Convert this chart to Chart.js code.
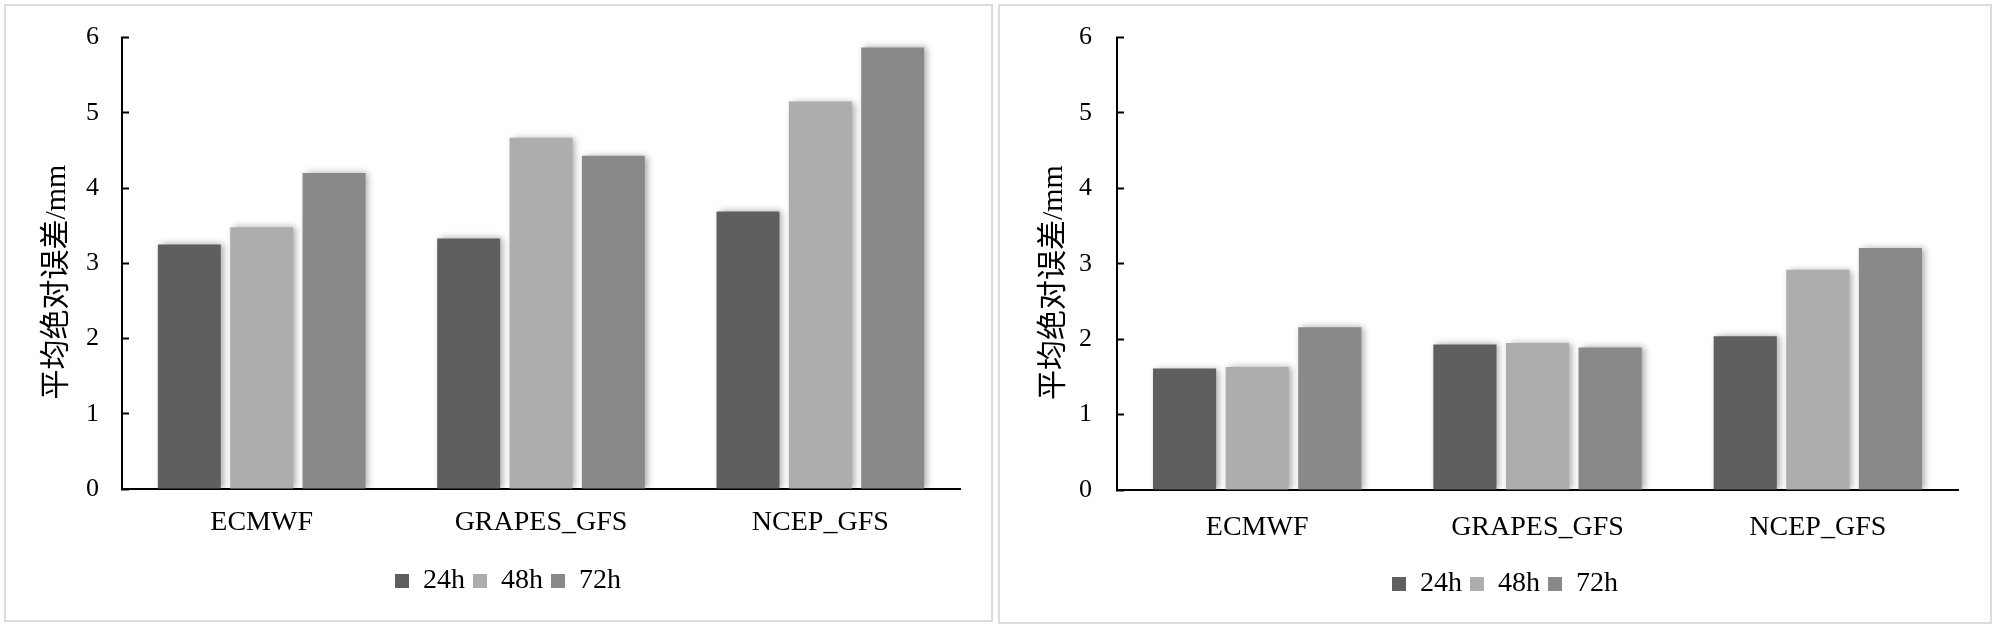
<!DOCTYPE html>
<html>
<head>
<meta charset="utf-8">
<script src="https://cdn.jsdelivr.net/npm/chart.js@4.4.1/dist/chart.umd.min.js"></script>
<style>
  html, body { margin: 0; padding: 0; background: #fff; }
  body { width: 2000px; height: 632px; position: relative; overflow: hidden; }
  .panel { position: absolute; box-sizing: border-box; border: 2px solid #dcdcdc; }
  canvas { position: absolute; }
</style>
</head>
<body>
<div class="panel" style="left:4px; top:4px; width:989px; height:618px;"></div>
<div class="panel" style="left:998px; top:4px; width:994px; height:620px;"></div>
<canvas id="left-chart" style="left:6px; top:-8px;" width="984" height="623"></canvas>
<canvas id="right-chart" style="left:1001px; top:-10px;" width="988" height="623"></canvas>
<script>
// categories and series
const categories = ['ECMWF', 'GRAPES_GFS', 'NCEP_GFS'];
const seriesNames = ['24h', '48h', '72h'];
const seriesColors = ['#5f5f5f', '#adadad', '#898989'];

// left panel values
const left24 = [3.25, 3.33, 3.69];
const left48 = [3.48, 4.67, 5.15];
const left72 = [4.20, 4.43, 5.87];

// right panel values
const right24 = [1.61, 1.93, 2.04];
const right48 = [1.63, 1.95, 2.92];
const right72 = [2.16, 1.89, 3.21];

const yMin = 0;
const yMax = 6;
const yTitle = '平均绝对误差/mm     ';

const serif = '"Liberation Serif", "Times New Roman", "Noto Sans CJK SC", serif';

// soft shadow to the right of each bar, like the original
const barShadow = {
  id: 'barShadow',
  beforeDatasetsDraw(chart) {
    const ctx = chart.ctx;
    ctx.save();
    ctx.shadowColor = 'rgba(0,0,0,0.35)';
    ctx.shadowBlur = 7;
    ctx.shadowOffsetX = 3;
    ctx.shadowOffsetY = 0;
  },
  afterDatasetsDraw(chart) {
    chart.ctx.restore();
  }
};

function makeChart(canvasId, values, lay) {
  const ctx = document.getElementById(canvasId).getContext('2d');
  return new Chart(ctx, {
    type: 'bar',
    data: {
      labels: categories,
      datasets: seriesNames.map((name, i) => ({
        label: name,
        data: values[i],
        backgroundColor: seriesColors[i],
        borderWidth: 0,
        categoryPercentage: 0.777,
        barPercentage: 0.87
      }))
    },
    options: {
      responsive: false,
      animation: false,
      events: [],
      layout: { padding: { left: lay.left, right: lay.right, top: 0, bottom: lay.bottom } },
      plugins: {
        tooltip: { enabled: false },
        legend: {
          position: 'bottom',
          labels: {
            color: '#000',
            font: { family: serif, size: 28 },
            boxWidth: 14,
            boxHeight: 14,
            padding: 8
          }
        }
      },
      scales: {
        x: {
          z: 1,
          grid: { display: false, drawTicks: false },
          border: { display: true, color: '#000', width: 2 },
          ticks: { color: '#000', font: { family: serif, size: 28 }, padding: lay.xPad },
          afterFit: (scale) => { scale.height = lay.xHeight; }
        },
        y: {
          z: 1,
          min: yMin,
          max: yMax,
          grid: { drawOnChartArea: false, tickLength: -7, tickColor: '#000', tickWidth: 2 },
          border: { display: true, color: '#000', width: 2 },
          ticks: { stepSize: 1, color: '#000', font: { family: serif, size: 26 }, padding: lay.yPad },
          title: {
            display: true,
            text: yTitle,
            color: '#000',
            font: { family: serif, size: 30 },
            padding: { top: lay.titlePad, bottom: 0 }
          },
          afterFit: (scale) => { scale.width = lay.yWidth; }
        }
      }
    },
    plugins: [barShadow]
  });
}

makeChart('left-chart', [left24, left48, left72],
  { left: 50, right: 30, bottom: 10, xPad: 17, xHeight: 70, yWidth: 66, yPad: 30, titlePad: -17 });
makeChart('right-chart', [right24, right48, right72],
  { left: 51, right: 31, bottom: 5, xPad: 21, xHeight: 72, yWidth: 65, yPad: 32, titlePad: -16 });
</script>
</body>
</html>
